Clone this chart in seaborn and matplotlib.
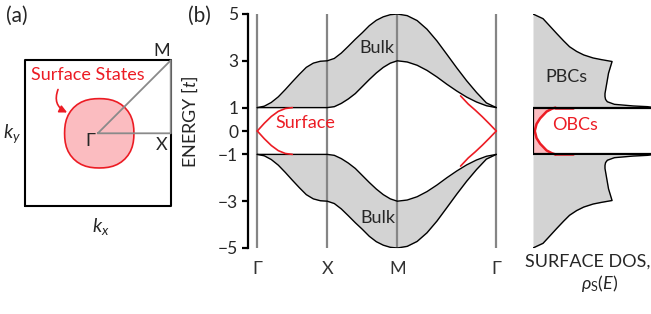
import numpy as np
import pandas as pd
import seaborn as sns
import matplotlib.pyplot as plt

# ---- data ----
# path Gamma -> X -> M -> Gamma (in units of pi/a, diagonal = sqrt 2)
sym_k = [0.0, 1.0, 2.0, 3.414]
sym_lbl = ["Γ", "X", "M", "Γ"]

k_path = [0.0, 0.1, 0.2, 0.3, 0.4, 0.5, 0.6, 0.7, 0.8, 0.9, 1.0,
          1.1, 1.2, 1.3, 1.4, 1.5, 1.6, 1.7, 1.8, 1.9, 2.0,
          2.141, 2.283, 2.424, 2.566, 2.707, 2.849, 2.990, 3.131, 3.273, 3.414]

top_hi = [1.00, 1.06, 1.22, 1.46, 1.77, 2.10, 2.42, 2.72, 2.90, 2.98, 3.00,
          3.10, 3.33, 3.62, 3.92, 4.20, 4.50, 4.73, 4.88, 4.97, 5.00,
          4.93, 4.72, 4.35, 3.85, 3.28, 2.70, 2.15, 1.65, 1.20, 1.00]
top_lo = [1.00, 1.00, 1.00, 1.00, 1.00, 1.00, 1.00, 1.00, 1.00, 1.00, 1.00,
          1.04, 1.18, 1.37, 1.60, 1.90, 2.20, 2.48, 2.72, 2.90, 3.00,
          2.95, 2.81, 2.59, 2.31, 2.00, 1.71, 1.45, 1.24, 1.08, 1.00]
bot_hi = [-1.00, -1.00, -1.00, -1.00, -1.00, -1.00, -1.00, -1.00, -1.00, -1.00, -1.00,
          -1.04, -1.18, -1.37, -1.60, -1.90, -2.20, -2.48, -2.72, -2.90, -3.00,
          -2.95, -2.81, -2.59, -2.31, -2.00, -1.71, -1.45, -1.24, -1.08, -1.00]
bot_lo = [-1.00, -1.06, -1.22, -1.46, -1.77, -2.10, -2.42, -2.72, -2.90, -2.98, -3.00,
          -3.10, -3.33, -3.62, -3.92, -4.20, -4.50, -4.73, -4.88, -4.97, -5.00,
          -4.93, -4.72, -4.35, -3.85, -3.28, -2.70, -2.15, -1.65, -1.20, -1.00]

# surface state branches
surf_k_left = [0.0, 0.1, 0.2, 0.3, 0.4, 0.5]
surf_E_left = [0.0, 0.33, 0.62, 0.84, 0.96, 1.0]
surf_k_right = [3.414, 3.314, 3.214, 3.114, 3.014, 2.904]
surf_E_right = [0.0, 0.31, 0.61, 0.89, 1.15, 1.50]

# surface DOS, periodic boundaries (upper half; lower half is the mirror)
dos_E = [5.0, 4.8, 4.5, 4.17, 3.85, 3.6, 3.4, 3.25, 3.12, 3.05, 2.97,
         2.47, 1.89, 1.6, 1.47, 1.35, 1.25, 1.14, 1.07, 1.04, 1.02]
dos_v = [0.0, 0.085, 0.14, 0.20, 0.26, 0.31, 0.37, 0.43, 0.51, 0.58, 0.67,
         0.64, 0.62, 0.61, 0.61, 0.615, 0.63, 0.69, 0.85, 0.97, 1.0]
# open boundaries, in-gap part
obc_E = [-1.0, -0.95, -0.83, -0.54, -0.3, 0.0, 0.3, 0.54, 0.83, 0.95, 1.0]
obc_v = [0.19, 0.16, 0.115, 0.06, 0.03, 0.015, 0.03, 0.06, 0.115, 0.16, 0.19]
obc_tail_v = [0.19, 0.34]
gap = [-1.0, 1.0]

# Brillouin zone surface-state contour: radius vs angle (deg) in one octant
bz_ang = [0, 7.5, 15, 22.5, 30, 37.5, 45]
bz_r = [0.475, 0.477, 0.482, 0.488, 0.493, 0.496, 0.497]

RED = "#ec1c24"
PINK = "#fbbcc0"
GREY_FILL = "#d3d3d3"
DARK = "#262626"

sns.set_theme(style="white")
plt.rcParams['font.family'] = ['Lato', 'DejaVu Sans']
plt.rcParams['mathtext.fontset'] = 'custom'
plt.rcParams['mathtext.rm'] = 'Lato'
plt.rcParams['mathtext.it'] = 'Lato:italic'
plt.rcParams['text.color'] = DARK

W, H = 651, 314
fig = plt.figure(figsize=(W / 100, H / 100), dpi=100)

# ---- (a) Brillouin zone ----
ax_a = fig.add_axes([0, 0, 200 / W, 1])
ax_a.set_xlim(-97.8 / 73, (200 - 97.8) / 73)
ax_a.set_ylim((133.3 - 314) / 73, 133.3 / 73)
ax_a.axis('off')

zone = [-1, 1]
ax_a.plot([zone[0], zone[1], zone[1], zone[0], zone[0]],
          [zone[0], zone[0], zone[1], zone[1], zone[0]], color="black", lw=1.5, zorder=2)

# full contour from the octant by the square's symmetry
blob_ang, blob_r = [], []
for q in range(4):
    for a, r in zip(bz_ang, bz_r):
        blob_ang.append(q * 90 + a)
        blob_r.append(r)
    for a, r in zip(bz_ang[-2::-1], bz_r[-2::-1]):
        blob_ang.append(q * 90 + 90 - a)
        blob_r.append(r)
blob_x = [0.02 + r * np.cos(np.radians(a)) for a, r in zip(blob_ang, blob_r)]
blob_y = [r * np.sin(np.radians(a)) for a, r in zip(blob_ang, blob_r)]
ax_a.fill(blob_x, blob_y, facecolor=PINK, edgecolor=RED, lw=1.2, zorder=3)

# irreducible path lines
ax_a.plot([0, zone[1], zone[1], 0], [0, 0, zone[1], 0], color="#8a8a8a", lw=1.3, zorder=4)

ax_a.text(-0.107, -0.11, "Γ", ha="center", va="center", fontsize=13, zorder=5)
ax_a.text(0.88, 1.13, "M", ha="center", va="center", fontsize=13)
ax_a.text(0.88, -0.16, "X", ha="center", va="center", fontsize=13)
ax_a.text(-1.175, 0.0, "$k_y$", ha="center", va="center", fontsize=14)
ax_a.text(0.044, -1.27, "$k_x$", ha="center", va="center", fontsize=14)
ax_a.text(-0.14, 0.805, "Surface States", ha="center", va="center", fontsize=13, color=RED)
ax_a.annotate("", xy=(-0.42, 0.285), xytext=(-0.545, 0.60),
              arrowprops=dict(arrowstyle="-|>", color=RED, lw=1.2, mutation_scale=11,
                              connectionstyle="arc3,rad=0.45", shrinkA=0, shrinkB=0))

fig.text(17 / W, 1 - 16 / H, "(a)", ha="center", va="center", fontsize=15)
fig.text(199 / W, 1 - 16 / H, "(b)", ha="center", va="center", fontsize=15)

# ---- (b) band structure ----
ax_b = fig.add_axes([248 / W, 66 / H, 252 / W, 234 / H])
px = 70.0
ax_b.set_xlim(-9.3 / px, (500 - 257.3) / px)
ax_b.set_ylim(-5, 5)

ax_b.fill_between(k_path, top_lo, top_hi, color=GREY_FILL, lw=0, zorder=1)
ax_b.fill_between(k_path, bot_lo, bot_hi, color=GREY_FILL, lw=0, zorder=1)
for kk in sym_k:
    ax_b.axvline(kk, color="#858585", lw=1.6, zorder=2)

band = pd.concat([
    pd.DataFrame({"k": k_path, "E": top_hi, "edge": "top_hi"}),
    pd.DataFrame({"k": k_path, "E": top_lo, "edge": "top_lo"}),
    pd.DataFrame({"k": k_path, "E": bot_hi, "edge": "bot_hi"}),
    pd.DataFrame({"k": k_path, "E": bot_lo, "edge": "bot_lo"}),
])
sns.lineplot(data=band, x="k", y="E", units="edge", estimator=None, sort=False,
             color="black", lw=1.0, ax=ax_b, legend=False, zorder=3)

surf = pd.concat([
    pd.DataFrame({"k": surf_k_left, "E": surf_E_left, "br": "lu"}),
    pd.DataFrame({"k": surf_k_left, "E": [-e for e in surf_E_left], "br": "ld"}),
    pd.DataFrame({"k": surf_k_right, "E": surf_E_right, "br": "ru"}),
    pd.DataFrame({"k": surf_k_right, "E": [-e for e in surf_E_right], "br": "rd"}),
])
sns.lineplot(data=surf, x="k", y="E", units="br", estimator=None, sort=False,
             color=RED, lw=1.2, ax=ax_b, legend=False, zorder=4)

ax_b.text(1.71, 3.55, "Bulk", ha="center", va="center", fontsize=13, zorder=5)
ax_b.text(1.72, -3.72, "Bulk", ha="center", va="center", fontsize=13, zorder=5)
ax_b.text(0.68, 0.34, "Surface", ha="center", va="center", fontsize=13, color=RED, zorder=5)

for s in ["top", "right", "bottom"]:
    ax_b.spines[s].set_visible(False)
ax_b.spines["left"].set_bounds(-5, 5)
ax_b.spines["left"].set_linewidth(1.6)
ax_b.spines["left"].set_color("black")
ax_b.set_yticks([5, 3, 1, 0, -1, -3, -5])
ax_b.set_yticklabels(["5", "3", "1", "0", "\u22121", "\u22123", "\u22125"])
ax_b.tick_params(axis="y", length=4, width=1.6, direction="out", labelsize=12.5,
                 pad=3, left=True, colors="black", labelcolor=DARK)
ax_b.set_xticks(sym_k)
ax_b.set_xticklabels(sym_lbl)
ax_b.tick_params(axis="x", length=0, pad=9, labelsize=13, labelcolor="#333333")
ax_b.set_xlabel("")
ax_b.set_ylabel("ENERGY [$t$]", fontsize=13, color=DARK)
ax_b.yaxis.set_label_coords(-0.19, 0.54)

# ---- surface DOS ----
ax_c = fig.add_axes([533 / W, 66 / H, 118 / W, 234 / H])
ax_c.set_xlim(0, 1)
ax_c.set_ylim(-5, 5)
ax_c.axis('off')

ax_c.fill_betweenx(dos_E, 0, dos_v, color=GREY_FILL, lw=0, zorder=1)
ax_c.fill_betweenx([-e for e in dos_E], 0, dos_v, color=GREY_FILL, lw=0, zorder=1)
dos = pd.concat([
    pd.DataFrame({"v": dos_v, "E": dos_E, "part": "up"}),
    pd.DataFrame({"v": dos_v, "E": [-e for e in dos_E], "part": "dn"}),
])
sns.lineplot(data=dos, x="v", y="E", units="part", estimator=None, sort=False,
             orient="y", color="black", lw=1.0, ax=ax_c, legend=False, zorder=2)

ax_c.fill_betweenx(obc_E, 0, obc_v, color=PINK, lw=0, zorder=1)
obc = pd.concat([
    pd.DataFrame({"v": obc_v, "E": obc_E, "part": "gap"}),
    pd.DataFrame({"v": obc_tail_v, "E": [gap[1] - 0.02] * 2, "part": "t_up"}),
    pd.DataFrame({"v": obc_tail_v, "E": [gap[0] + 0.02] * 2, "part": "t_dn"}),
])
sns.lineplot(data=obc, x="v", y="E", units="part", estimator=None, sort=False,
             orient="y", color=RED, lw=1.8, ax=ax_c, legend=False, zorder=3)

for g in gap:
    ax_c.axhline(g, color="black", lw=1.6, zorder=4)
ax_c.vlines(0, gap[0], gap[1], color="black", lw=1.6, zorder=4)

ax_c.text(0.28, 2.31, "PBCs", ha="center", va="center", fontsize=13, zorder=5)
ax_c.text(0.36, 0.26, "OBCs", ha="center", va="center", fontsize=13, color=RED, zorder=5)

fig.text(588 / W, 1 - 262 / H, "SURFACE DOS,", ha="center", va="center", fontsize=13)
fig.text(600 / W, 1 - 284 / H, r"$\rho_{\rm S}(E)$", ha="center", va="center", fontsize=13)

fig.savefig("out.png", dpi=100)
